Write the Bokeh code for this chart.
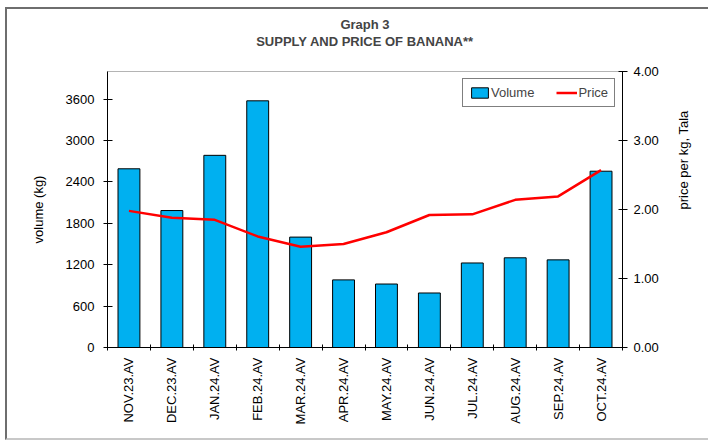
import math
from bokeh.plotting import figure
from bokeh.models import (Range1d, LinearAxis, FixedTicker, Legend, Title,
                          LegendItem, ColumnDataSource, NumeralTickFormatter)
from bokeh.embed import file_html
from bokeh.resources import INLINE

months = ["NOV.23.AV", "DEC.23.AV", "JAN.24.AV", "FEB.24.AV", "MAR.24.AV", "APR.24.AV",
          "MAY.24.AV", "JUN.24.AV", "JUL.24.AV", "AUG.24.AV", "SEP.24.AV", "OCT.24.AV"]
volume = [2590, 1985, 2785, 3575, 1600, 980, 920, 790, 1225, 1300, 1270, 2555]
price = [1.98, 1.88, 1.85, 1.61, 1.46, 1.50, 1.67, 1.92, 1.93, 2.14, 2.19, 2.57]
vol_ticks = [0, 600, 1200, 1800, 2400, 3000, 3600]
price_ticks = [0, 1, 2, 3, 4]
title_main = "Graph 3"
title_sub = "SUPPLY AND PRICE OF BANANA**"

FONT = "Liberation Sans"
x = [i + 0.5 for i in range(len(months))]
src = ColumnDataSource(dict(x=x, volume=volume, price=price, month=months))

W, H = 703, 433
MBL, MBR, MBT, MBB = 100, 88, 62, 95
p = figure(width=W, height=H, x_range=Range1d(0, len(months)), y_range=Range1d(0, 4000),
           output_backend="svg", toolbar_location=None,
           min_border_left=MBL, min_border_right=MBR, min_border_top=MBT, min_border_bottom=MBB)
p.styles = {"border-left": "2px solid #6e6e6e", "border-top": "2px solid #6e6e6e",
            "border-bottom": "2px solid #c8c8c8", "margin-left": "5px", "margin-top": "7px"}
p.extra_y_ranges = {"price": Range1d(0, 4)}
p.xgrid.visible = False
p.ygrid.visible = False
p.outline_line_color = "#b4b4b4"
p.outline_line_width = 1

# titles: outer "Graph 3", inner subtitle (trailing blank line = spacing to frame)
p.title.text = title_main
p.title.align = "center"
p.title.text_font = FONT
p.title.text_font_size = "13px"
p.title.text_font_style = "bold"
p.title.standoff = -6
sub = Title(text=title_sub + "\n ", align="center", text_font=FONT, text_font_size="13px",
            text_font_style="bold", text_line_height=1.24, standoff=7)
p.add_layout(sub, "above")

bars = p.vbar(x="x", top="volume", width=0.51, source=src, fill_color="#00B0F0",
              line_color="black", line_width=1)
line = p.line("x", "price", source=src, y_range_name="price", line_color="#FF0000", line_width=2.5)

# x axis
xa = p.below[0]
xa.ticker = FixedTicker(ticks=x, minor_ticks=list(range(len(months) + 1)))
xa.major_label_overrides = {xi: m for xi, m in zip(x, months)}
xa.major_label_orientation = math.pi / 2
xa.major_tick_line_color = None
xa.major_tick_in = 0
xa.major_tick_out = 4
xa.minor_tick_in = 3
xa.minor_tick_out = 3
xa.minor_tick_line_color = "black"
xa.major_label_standoff = 6
xa.major_label_text_font = FONT
xa.major_label_text_font_size = "13px"
xa.major_label_text_color = "black"
xa.axis_line_color = "black"

# left axis
ya = p.left[0]
ya.ticker = FixedTicker(ticks=vol_ticks)
ya.axis_label = "volume (kg)"
ya.axis_label_text_font = FONT
ya.axis_label_text_font_size = "13px"
ya.axis_label_text_font_style = "normal"
ya.axis_label_text_color = "black"
ya.axis_label_standoff = 17
ya.major_tick_in = 5
ya.major_tick_out = 4
ya.minor_tick_line_color = None
ya.major_label_standoff = 9
ya.major_label_text_font = FONT
ya.major_label_text_font_size = "13px"
ya.major_label_text_color = "black"
ya.axis_line_color = "black"
ya.major_tick_line_color = "black"

# right axis (label reads bottom-to-top, as in the reference)
ra = LinearAxis(y_range_name="price", ticker=FixedTicker(ticks=price_ticks),
                formatter=NumeralTickFormatter(format="0.00"), axis_label="price per kg, Tala")
if "axis_label_orientation" in ra.properties():
    ra.axis_label_orientation = math.pi / 2
ra.axis_label_text_font = FONT
ra.axis_label_text_font_size = "13px"
ra.axis_label_text_font_style = "normal"
ra.axis_label_text_color = "black"
ra.axis_label_standoff = 22
ra.major_tick_in = 4
ra.major_tick_out = 5
ra.minor_tick_line_color = None
ra.major_label_standoff = 6
ra.major_label_text_font = FONT
ra.major_label_text_font_size = "13px"
ra.major_label_text_color = "black"
ra.axis_line_color = "black"
p.add_layout(ra, "right")

legend = Legend(items=[LegendItem(label="Volume", renderers=[bars]),
                       LegendItem(label="Price", renderers=[line])],
                orientation="horizontal", location="top_right")
legend.margin = 7
legend.padding = 6
legend.spacing = 22
legend.label_standoff = 1
legend.glyph_width = 21
legend.glyph_height = 13
legend.label_height = 13
legend.label_text_font = FONT
legend.label_text_font_size = "13px"
legend.border_line_color = "black"
legend.border_line_width = 1
p.add_layout(legend)

open("out.html", "w").write(file_html(p, INLINE))
